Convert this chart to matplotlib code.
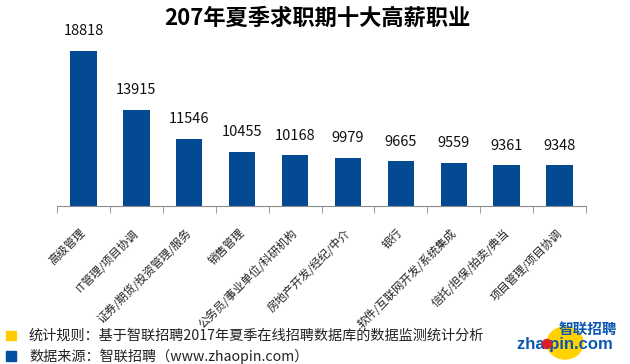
import matplotlib
matplotlib.use('Agg')
import matplotlib.pyplot as plt
from matplotlib.patches import Ellipse, Rectangle

plt.rcParams['font.family'] = ['Noto Sans CJK SC', 'DejaVu Sans']

# data
jobs = ['高级管理', 'IT管理/项目协调', '证券/期货/投资管理/服务', '销售管理',
        '公务员/事业单位/科研机构', '房地产开发/经纪/中介', '银行',
        '软件/互联网开发/系统集成', '信托/担保/拍卖/典当', '项目管理/项目协调']
salary = [18818, 13915, 11546, 10455, 10168, 9979, 9665, 9559, 9361, 9348]

title = '207年夏季求职期十大高薪职业'
note1 = '统计规则：基于智联招聘2017年夏季在线招聘数据库的数据监测统计分析'
note2 = '数据来源：智联招聘（www.zhaopin.com）'

bar_color = '#044A93'

fig = plt.figure(figsize=(6.3, 3.64), dpi=100)
ax = fig.add_axes([57/630, 1 - 205.7/364, 529/630, 169.4/364])

x = list(range(len(jobs)))
bars = ax.bar(x, salary, width=0.5, color=bar_color)
for b, v in zip(bars, salary):
    ax.annotate(str(v), (b.get_x() + b.get_width()/2, v), xytext=(0, 9),
                textcoords='offset points', ha='center', va='bottom',
                fontsize=10.5, color='#111111')

ax.set_xlim(-0.5, len(jobs) - 0.5)
ax.set_ylim(6000, 20000)
for s in ['top', 'right', 'left']:
    ax.spines[s].set_visible(False)
ax.spines['bottom'].set_color('#8c8c8c')
ax.set_yticks([])

ax.set_xticks(x)
ax.set_xticklabels(jobs, fontsize=8.2, color='#222222')
ax.tick_params(axis='x', which='major', length=0, pad=18)
ax.set_xticks([i - 0.5 for i in range(len(jobs) + 1)], minor=True)
ax.tick_params(axis='x', which='minor', length=5, color='#8c8c8c')
plt.setp(ax.get_xticklabels(), rotation=45, ha='right', va='center',
         rotation_mode='anchor')

fig.text(0.503, 1 - 18/364, title, ha='center', va='center',
         fontsize=16, fontweight='bold', color='#000000')

# footer
fig.add_artist(Rectangle((6/630, 1 - 340/364), 10/630, 9/364,
                         transform=fig.transFigure, color='#FFCC00'))
fig.add_artist(Rectangle((6/630, 1 - 361/364), 10/630, 10/364,
                         transform=fig.transFigure, color='#0450A0'))
fig.text(29/630, 1 - 336/364, note1, ha='left', va='center',
         fontsize=10.2, color='#222222')
fig.text(29/630, 1 - 356/364, note2, ha='left', va='center',
         fontsize=10.2, color='#222222')

# logo
fig.add_artist(Ellipse((565/630, 1 - 343/364), 36/630, 32/364,
                       transform=fig.transFigure, color='#FFD200', zorder=1))
fig.text(588/630, 1 - 329/364, '智联招聘', ha='center', va='center',
         fontsize=10.5, fontweight='bold', style='italic', color='#0A56B0',
         zorder=3)
fig.text(565/630, 1 - 344/364, 'zha pin.com', ha='center', va='center',
         fontsize=12, fontweight='bold', family='Liberation Sans',
         color='#0A56B0', zorder=3)
fig.add_artist(Ellipse((547/630, 1 - 344/364), 9/630, 9/364,
                       transform=fig.transFigure, color='#D8202A', zorder=4))

fig.savefig('out.png', dpi=100)
